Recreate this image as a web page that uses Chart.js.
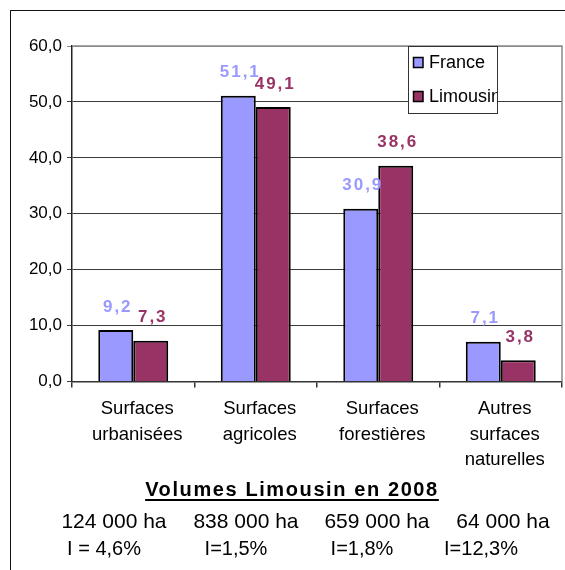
<!DOCTYPE html>
<html lang="fr">
<head>
<meta charset="utf-8">
<title>Occupation du sol – France / Limousin</title>
<script src="https://cdn.jsdelivr.net/npm/chart.js@4/dist/chart.umd.min.js"></script>
<style>
  html, body { margin: 0; padding: 0; background: #fff; }
  #wrap { position: relative; width: 565px; height: 570px; overflow: hidden; font-family: "Liberation Sans", Arial, sans-serif; }
  #frame { position: absolute; left: 10px; top: 10px; width: 700px; height: 700px; border-left: 1.5px solid #111; border-top: 1.5px solid #111; box-sizing: border-box; pointer-events: none; }
  canvas { position: absolute; left: 0; top: 0; }
  .line { position: absolute; white-space: nowrap; text-align: center; color: #000; }
  #title { left: 92px; width: 400px; top: 477px; line-height: 24px; font-size: 20px; font-weight: bold; letter-spacing: 1.6px; }
  #title span { text-decoration: underline; text-decoration-thickness: 1.5px; text-underline-offset: 3px; }
  .vol { top: 509px; line-height: 24px; font-size: 21px; width: 160px; }
  .rate { top: 536px; line-height: 24px; font-size: 20px; width: 160px; }
</style>
</head>
<body>
<div id="wrap">
  <canvas id="chart" width="565" height="570"></canvas>
  <div id="frame"></div>
  <div class="line" id="title"><span>Volumes Limousin en 2008</span></div>
  <div id="volumes"></div>
</div>
<script>
// Land-use shares (%), France vs Limousin
const categories = [
  ["Surfaces", "urbanisées"],
  ["Surfaces", "agricoles"],
  ["Surfaces", "forestières"],
  ["Autres", "surfaces", "naturelles"]
];
const franceValues = [9.2, 51.1, 30.9, 7.1];
const limousinValues = [7.3, 49.1, 38.6, 3.8];
const seriesNames = ["France", "Limousin"];
const yTickLabels = ["0,0", "10,0", "20,0", "30,0", "40,0", "50,0", "60,0"];

// Limousin volumes in 2008, one per category
const volumeLabels = ["124 000 ha", "838 000 ha", "659 000 ha", "64 000 ha"];
const rateLabels = ["I = 4,6%", "I=1,5%", "I=1,8%", "I=12,3%"];

const FONT = '"Liberation Sans", Arial, sans-serif';
const colors = { france: "#9999FF", limousin: "#993366" };

// Table text under the chart
(function buildTable() {
  const host = document.getElementById("volumes");
  const volCenters = [114, 246, 377, 503];
  const rateCenters = [104, 236, 362, 481];
  volumeLabels.forEach((t, i) => {
    const d = document.createElement("div");
    d.className = "line vol";
    d.style.left = (volCenters[i] - 80) + "px";
    d.textContent = t;
    host.appendChild(d);
  });
  rateLabels.forEach((t, i) => {
    const d = document.createElement("div");
    d.className = "line rate";
    d.style.left = (rateCenters[i] - 80) + "px";
    d.textContent = t;
    host.appendChild(d);
  });
})();

const fmt = v => v.toFixed(1).replace(".", ",");

// Plot frame (grey top and right edges)
const plotFrame = {
  id: "plotFrame",
  beforeDatasetsDraw(chart) {
    const { ctx, chartArea: a } = chart;
    ctx.save();
    ctx.strokeStyle = "#8a8a8a";
    ctx.lineWidth = 1.5;
    ctx.beginPath();
    ctx.moveTo(a.left, a.top);
    ctx.lineTo(a.right, a.top);
    ctx.lineTo(a.right, a.bottom);
    ctx.stroke();
    ctx.restore();
  }
};

// Value labels above each bar
const valueLabels = {
  id: "valueLabels",
  afterDatasetsDraw(chart) {
    const { ctx } = chart;
    ctx.save();
    ctx.font = "bold 17px " + FONT;
    ctx.textAlign = "center";
    ctx.textBaseline = "middle";
    if ("letterSpacing" in ctx) ctx.letterSpacing = "2px";
    chart.data.datasets.forEach((ds, di) => {
      const meta = chart.getDatasetMeta(di);
      ctx.fillStyle = ds.backgroundColor;
      meta.data.forEach((bar, i) => {
        ctx.fillText(fmt(ds.data[i]), bar.x + 2, bar.y - 23);
      });
    });
    ctx.restore();
  }
};

// Boxed legend inside the plot area
const boxLegend = {
  id: "boxLegend",
  afterDraw(chart) {
    const { ctx } = chart;
    const box = { x: 408, y: 46, w: 89, h: 67 };
    const rows = [62.5, 96.5];
    ctx.save();
    ctx.fillStyle = "#fff";
    ctx.fillRect(box.x, box.y, box.w, box.h);
    ctx.beginPath();
    ctx.rect(box.x, box.y, box.w, box.h);
    ctx.clip();
    chart.data.datasets.forEach((ds, i) => {
      const cy = rows[i];
      ctx.fillStyle = ds.backgroundColor;
      ctx.fillRect(413.5, cy - 5, 9.5, 10);
      ctx.strokeStyle = "#000";
      ctx.lineWidth = 1.5;
      ctx.strokeRect(413.5, cy - 5, 9.5, 10);
      ctx.fillStyle = "#000";
      ctx.font = "18px " + FONT;
      ctx.textAlign = "left";
      ctx.textBaseline = "middle";
      ctx.fillText(ds.label, 429, cy + 1);
    });
    ctx.restore();
    ctx.save();
    ctx.strokeStyle = "#333";
    ctx.lineWidth = 1;
    ctx.strokeRect(box.x + 0.5, box.y + 0.5, box.w, box.h);
    ctx.restore();
  }
};

new Chart(document.getElementById("chart"), {
  type: "bar",
  data: {
    labels: categories,
    datasets: [
      { label: seriesNames[0], data: franceValues, backgroundColor: colors.france },
      { label: seriesNames[1], data: limousinValues, backgroundColor: colors.limousin }
    ]
  },
  options: {
    responsive: false,
    animation: false,
    layout: { padding: { top: 46, right: 3, bottom: 0, left: 0 } },
    datasets: {
      bar: {
        borderColor: "#000",
        borderWidth: 2,
        categoryPercentage: 0.571,
        barPercentage: 1
      }
    },
    plugins: {
      legend: { display: false },
      tooltip: { enabled: false }
    },
    scales: {
      x: {
        afterFit: s => { s.height = 188.5; },
        grid: {
          offset: true,
          drawOnChartArea: false,
          drawTicks: true,
          tickLength: 6,
          color: "#333",
          lineWidth: 1.5
        },
        border: { color: "#333", width: 1.5 },
        ticks: {
          color: "#000",
          font: { family: FONT, size: 18.5, lineHeight: 1.38 },
          padding: 9,
          labelOffset: 4,
          maxRotation: 0,
          autoSkip: false
        }
      },
      y: {
        min: 0,
        max: 60,
        afterFit: s => { s.width = 72; },
        grid: {
          color: ctx => (ctx.tick && ctx.tick.value === 60 ? "#8a8a8a" : "#3c3c3c"),
          lineWidth: 1,
          drawTicks: true,
          tickLength: 5
        },
        border: { color: "#222", width: 1.5 },
        ticks: {
          stepSize: 10,
          color: "#000",
          padding: 5,
          font: { family: FONT, size: 17 },
          callback: (v, i) => yTickLabels[i]
        }
      }
    }
  },
  plugins: [plotFrame, valueLabels, boxLegend]
});
</script>
</body>
</html>
